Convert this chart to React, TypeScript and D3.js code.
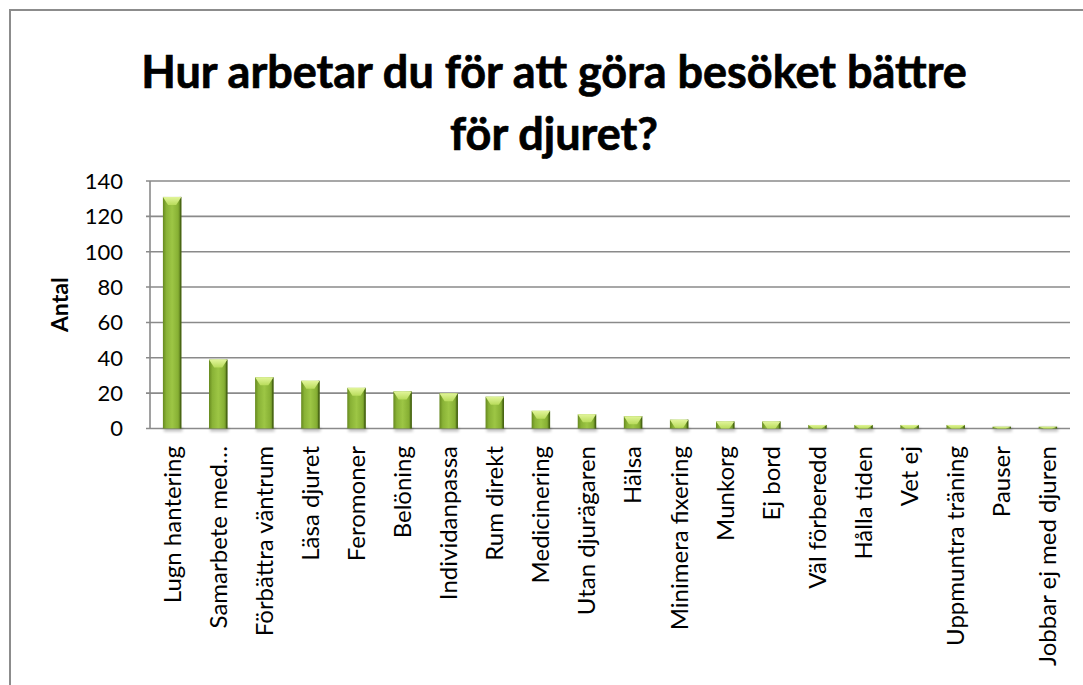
import React from 'react';
import * as d3 from 'd3';

const WIDTH = 1083;
const HEIGHT = 685;
const MARGIN = { top: 181, right: 13, bottom: 256.5, left: 150 };

const TITLE_LINES = ['Hur arbetar du för att göra besöket bättre', 'för djuret?'];
const Y_TITLE = 'Antal';

const categories = [
  'Lugn hantering',
  'Samarbete med…',
  'Förbättra väntrum',
  'Läsa djuret',
  'Feromoner',
  'Belöning',
  'Individanpassa',
  'Rum direkt',
  'Medicinering',
  'Utan djurägaren',
  'Hälsa',
  'Minimera fixering',
  'Munkorg',
  'Ej bord',
  'Väl förberedd',
  'Hålla tiden',
  'Vet ej',
  'Uppmuntra träning',
  'Pauser',
  'Jobbar ej med djuren',
];
const counts = [131, 39, 29, 27, 23, 21, 20, 18, 10, 8, 7, 5, 4, 4, 2, 2, 2, 2, 1, 1];
const yTicks = [0, 20, 40, 60, 80, 100, 120, 140];

const FONT = 'Lato, Calibri, "Open Sans", sans-serif';
const GRID = '#8a8a8a';

const App = () => {
  const x = d3
    .scaleBand<string>()
    .domain(categories)
    .range([MARGIN.left, WIDTH - MARGIN.right])
    .paddingInner(0.6)
    .paddingOuter(0.28);

  const y = d3
    .scaleLinear()
    .domain([0, 140])
    .range([HEIGHT - MARGIN.bottom, MARGIN.top]);

  const bw = x.bandwidth();
  const base = y(0);

  return (
    <div>
      <style>{'body{margin:0;overflow:hidden}'}</style>
      <svg width={WIDTH} height={HEIGHT} style={{ display: 'block', background: '#fff' }}>
        <defs>
          <linearGradient id="barFill" x1="0" x2="1" y1="0" y2="0">
            <stop offset="0%" stopColor="#66891f" />
            <stop offset="18%" stopColor="#89b236" />
            <stop offset="50%" stopColor="#9dc645" />
            <stop offset="82%" stopColor="#87b034" />
            <stop offset="100%" stopColor="#56771a" />
          </linearGradient>
          <linearGradient id="bevel" x1="0" x2="0" y1="0" y2="1">
            <stop offset="0%" stopColor="#e2f59a" />
            <stop offset="100%" stopColor="#b9dc5c" />
          </linearGradient>
          <filter id="shadow" x="-50%" y="-50%" width="200%" height="200%">
            <feGaussianBlur stdDeviation="1.5" />
          </filter>
        </defs>

        {/* outer chart border, runs off the page at right and bottom */}
        <rect x={10} y={10} width={WIDTH + 20} height={HEIGHT + 20} fill="none" stroke="#8c8c8c" strokeWidth={2} />

        {TITLE_LINES.map((t, i) => (
          <text
            key={t}
            x={554}
            y={88 + i * 62}
            textAnchor="middle"
            fontFamily={FONT}
            fontWeight="bold"
            fontSize={45}
            fill="#000"
            stroke="#000"
            strokeWidth={0.7}
          >
            {t}
          </text>
        ))}

        {yTicks.map((t) => (
          <g key={t}>
            <line x1={MARGIN.left - 4} x2={WIDTH - MARGIN.right} y1={y(t)} y2={y(t)} stroke={GRID} strokeWidth={1.6} />
            <text
              x={123}
              y={y(t)}
              dy="0.36em"
              textAnchor="end"
              fontFamily={FONT}
              fontSize={22}
              fill="#000"
            >
              {t}
            </text>
          </g>
        ))}
        <line x1={MARGIN.left} x2={MARGIN.left} y1={y(140)} y2={base} stroke={GRID} strokeWidth={1.6} />

        <text
          transform={`translate(60,${(y(140) + base) / 2}) rotate(-90)`}
          textAnchor="middle"
          dy="0.35em"
          fontFamily={FONT}
          fontWeight="bold"
          fontSize={23}
          fill="#000"
        >
          {Y_TITLE}
        </text>

        {categories.map((c, i) => {
          const x0 = x(c) as number;
          const top = y(counts[i]);
          const h = base - top;
          const bev = Math.min(8, h);
          return (
            <g key={c}>
              <rect x={x0 + 1} y={base - 1} width={bw} height={4} fill="#000" opacity={0.25} filter="url(#shadow)" />
              <rect x={x0} y={top} width={bw} height={h} fill="url(#barFill)" />
              <rect x={x0 + bw - 1.5} y={top} width={1.5} height={h} fill="#3f5a10" opacity={0.7} />
              <path
                d={`M${x0},${top}L${x0 + bw},${top}L${x0 + bw * 0.72},${top + bev}L${x0 + bw * 0.28},${top + bev}Z`}
                fill="url(#bevel)"
              />
            </g>
          );
        })}

        {categories.map((c) => (
          <text
            key={c}
            transform={`translate(${(x(c) as number) + bw / 2},446) rotate(-90)`}
            textAnchor="end"
            dy="0.35em"
            fontFamily={FONT}
            fontSize={24}
            fill="#000"
          >
            {c}
          </text>
        ))}
      </svg>
    </div>
  );
};

export default App;
